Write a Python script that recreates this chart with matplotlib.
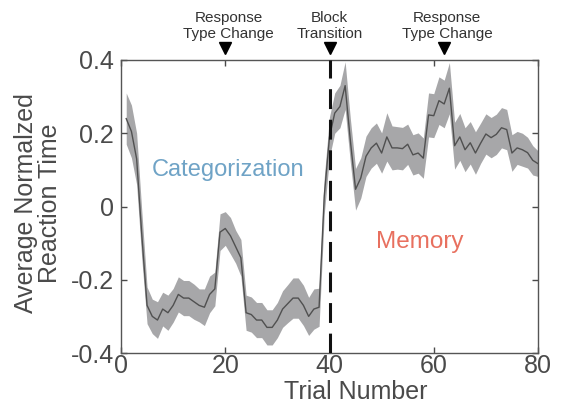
import matplotlib
matplotlib.use('Agg')
import matplotlib.pyplot as plt
import numpy as np

plt.rcParams['font.family'] = ['Liberation Sans', 'DejaVu Sans']

trials = list(range(1, 81))
mean_rt = [
    0.24, 0.205, 0.13, -0.08, -0.27, -0.30, -0.31, -0.28, -0.29, -0.27,
    -0.24, -0.25, -0.25, -0.26, -0.27, -0.275, -0.24, -0.225, -0.07, -0.06,
    -0.08, -0.11, -0.14, -0.29, -0.295, -0.31, -0.31, -0.33, -0.33, -0.31,
    -0.28, -0.265, -0.25, -0.25, -0.27, -0.30, -0.28, -0.275, 0.03, 0.19,
    0.255, 0.273, 0.33, 0.18, 0.047, 0.078, 0.137, 0.16, 0.173, 0.146,
    0.19, 0.16, 0.16, 0.158, 0.17, 0.141, 0.146, 0.132, 0.25, 0.248,
    0.289, 0.28, 0.323, 0.166, 0.19, 0.155, 0.174, 0.146, 0.173, 0.198,
    0.188, 0.197, 0.215, 0.21, 0.146, 0.16, 0.155, 0.147, 0.126, 0.117,
]
sem_rt = [
    0.07, 0.072, 0.07, 0.065, 0.05, 0.047, 0.05, 0.046, 0.048, 0.046,
    0.048, 0.048, 0.048, 0.048, 0.045, 0.05, 0.05, 0.046, 0.05, 0.046,
    0.05, 0.045, 0.05, 0.048, 0.048, 0.048, 0.048, 0.048, 0.048, 0.048,
    0.05, 0.052, 0.055, 0.055, 0.055, 0.052, 0.055, 0.052, 0.05, 0.055,
    0.055, 0.058, 0.065, 0.06, 0.057, 0.055, 0.055, 0.055, 0.055, 0.055,
    0.066, 0.06, 0.058, 0.058, 0.055, 0.055, 0.055, 0.055, 0.06, 0.06,
    0.065, 0.065, 0.07, 0.064, 0.064, 0.06, 0.058, 0.058, 0.055, 0.055,
    0.055, 0.055, 0.055, 0.055, 0.05, 0.045, 0.045, 0.042, 0.04, 0.035,
]

event_x = [20, 40, 62]
event_labels = ['Response\nType Change', 'Block\nTransition', 'Response\nType Change']
event_label_x = [20.6, 40, 62.6]
block_x = 40

xticks = [0, 20, 40, 60, 80]
yticks = [-0.4, -0.2, 0, 0.2, 0.4]
ytick_labels = ['-0.4', '-0.2', '0', '0.2', '0.4']

axis_gray = '#4a4a4a'

fig = plt.figure(figsize=(5.61, 4.04), dpi=100)
ax = fig.add_axes([0.2157, 0.1262, 0.7433, 0.7253])

m = np.array(mean_rt)
s = np.array(sem_rt)
ax.fill_between(trials, m - s, m + s, color='#a7a7a9', lw=0, zorder=1)
ax.plot(trials, m, color='#505050', lw=1.0, zorder=2)
ax.axvline(block_x, color='#111111', lw=2.2, ls=(0, (6.5, 3.5)), zorder=3)

ax.text(20.5, 0.10, 'Categorization', color='#6fa3c6', fontsize=17,
        ha='center', va='center')
ax.text(57.4, -0.096, 'Memory', color='#e8705f', fontsize=17.5,
        ha='center', va='center')

trans = ax.get_xaxis_transform()
ax.plot(event_x, [1.041] * len(event_x), ls='none', marker='v', ms=9,
        color='black', transform=trans, clip_on=False)
for x, lab in zip(event_label_x, event_labels):
    ax.text(x, 1.116, lab, transform=trans, ha='center', va='center',
            fontsize=11, color='#333333', linespacing=1.25)

ax.set_xlim(0, 80)
ax.set_ylim(-0.4, 0.4)
ax.set_xticks(xticks)
ax.set_yticks(yticks)
ax.set_yticklabels(ytick_labels)
ax.tick_params(direction='in', length=4, width=1, colors=axis_gray,
               labelsize=18, top=True, right=True)
ax.tick_params(axis='x', pad=1)
ax.tick_params(axis='y', pad=5)
for sp in ax.spines.values():
    sp.set_color('#555555')
    sp.set_linewidth(1.0)

fig.text(356 / 561, 1 - 399 / 404, 'Trial Number', fontsize=18,
         color=axis_gray, ha='center', va='baseline')
fig.text(38 / 561, 1 - 203 / 404, 'Average Normalzed\nReaction Time',
         fontsize=18, color=axis_gray, ha='center', va='center',
         rotation=90, linespacing=1.0)

fig.savefig('out.png', dpi=100)
